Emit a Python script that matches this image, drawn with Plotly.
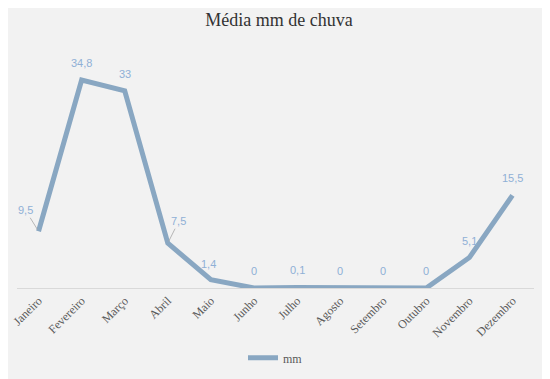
import plotly.graph_objects as go

meses = ["Janeiro", "Fevereiro", "Março", "Abril", "Maio", "Junho", "Julho",
         "Agosto", "Setembro", "Outubro", "Novembro", "Dezembro"]
chuva_mm = [9.5, 34.8, 33, 7.5, 1.4, 0, 0.1, 0, 0, 0, 5.1, 15.5]
rotulos = ["9,5", "34,8", "33", "7,5", "1,4", "0", "0,1", "0", "0", "0", "5,1", "15,5"]

line_color = "#89a7c2"
label_color = "#8fb0d6"
bg = "#f2f2f2"

fig = go.Figure()
fig.add_trace(go.Scatter(
    x=meses, y=chuva_mm, mode="lines", name="mm",
    line=dict(color=line_color, width=5),
))

annotations = []
offsets = {0: (-13, -17, True), 3: (11, -18, True), 4: (-2, -16, False)}
for i, (m, v, t) in enumerate(zip(meses, chuva_mm, rotulos)):
    dx, dy, arrow = offsets.get(i, (0, -17, False))
    if arrow:
        annotations.append(dict(
            x=m, y=v, xref="x", yref="y", text=t, showarrow=True,
            ax=dx, ay=dy - 4, arrowhead=0, arrowwidth=0.8, arrowcolor="#a6a6a6",
            standoff=2, font=dict(family="Liberation Sans", size=11, color=label_color),
        ))
    else:
        annotations.append(dict(
            x=m, y=v, xref="x", yref="y", text=t, showarrow=False,
            xshift=dx, yshift=-dy, yanchor="middle",
            font=dict(family="Liberation Sans", size=11, color=label_color),
        ))

fig.update_layout(
    width=542, height=371,
    paper_bgcolor=bg, plot_bgcolor=bg,
    margin=dict(l=8.5, r=16, t=53, b=91, autoexpand=False),
    title=dict(text="Média mm de chuva", x=0.5, xanchor="center", y=0.968, yanchor="middle",
               font=dict(family="Liberation Serif", size=18, color="#333333")),
    xaxis=dict(
        type="category", range=[-0.5, 11.5], showgrid=False, zeroline=False,
        showline=True, linecolor="#d9d9d9", linewidth=1, ticks="",
        tickangle=-45, tickfont=dict(family="Liberation Serif", size=12, color="#595959"),
    ),
    yaxis=dict(range=[0, 38], visible=False, showgrid=False, zeroline=False),
    showlegend=True,
    legend=dict(orientation="h", x=0.5, xanchor="center", y=0.057, yanchor="middle",
                yref="container",
                font=dict(family="Liberation Serif", size=12, color="#595959"),
                bgcolor="rgba(0,0,0,0)", itemwidth=30),
    annotations=annotations,
)

fig.write_html("out.html")
